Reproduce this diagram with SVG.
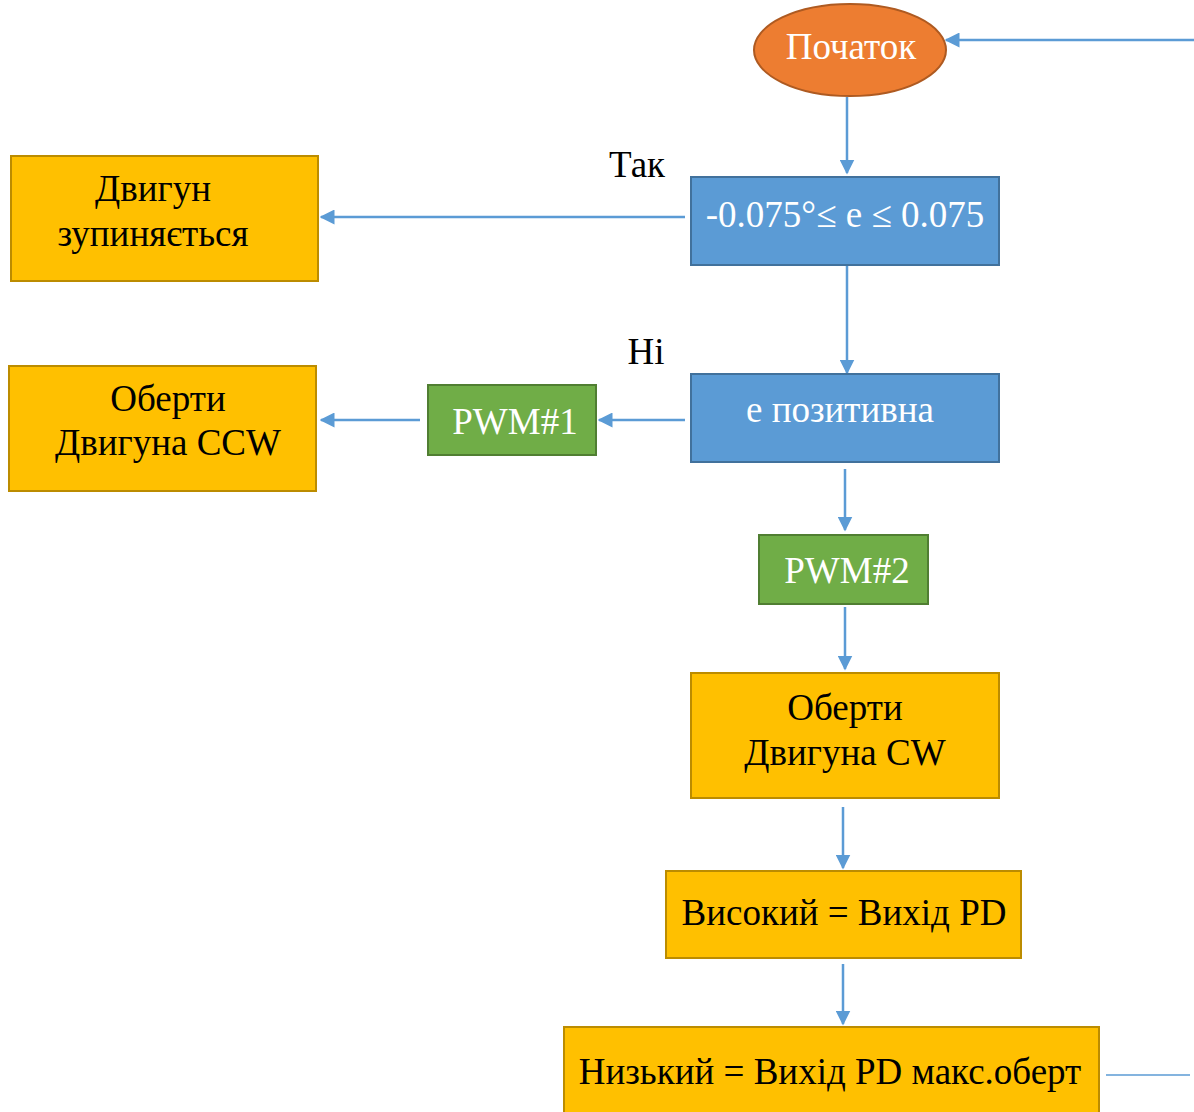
<svg xmlns="http://www.w3.org/2000/svg" width="1194" height="1112" viewBox="0 0 1194 1112">
<defs>
<marker id="ah" viewBox="0 0 10 10" refX="9" refY="5" markerWidth="6" markerHeight="6" orient="auto" markerUnits="strokeWidth">
<path d="M0,0 L10,5 L0,10 z" fill="#5B9BD5"/>
</marker>
<style>
.t{font-size:37px;text-anchor:middle}
.w{fill:#FFFFFF}
.k{fill:#000000}
.y{fill:#FFC000;stroke:#BC8C00;stroke-width:2}
.b{fill:#5B9BD5;stroke:#41719C;stroke-width:2}
.g{fill:#70AD47;stroke:#507E32;stroke-width:2}
.c{stroke:#5B9BD5;stroke-width:2.5;fill:none}
</style>
</defs>
<rect width="1194" height="1112" fill="#FFFFFF"/>
<g font-family="Liberation Serif, Times New Roman, serif">
<g id="connectors">
<line class="c" x1="1194" y1="40" x2="946" y2="40" marker-end="url(#ah)"/>
<line class="c" x1="847" y1="97" x2="847" y2="173" marker-end="url(#ah)"/>
<line class="c" x1="685" y1="217" x2="321" y2="217" marker-end="url(#ah)"/>
<line class="c" x1="847" y1="266" x2="847" y2="373" marker-end="url(#ah)"/>
<line class="c" x1="685" y1="420" x2="599" y2="420" marker-end="url(#ah)"/>
<line class="c" x1="420" y1="420" x2="321" y2="420" marker-end="url(#ah)"/>
<line class="c" x1="845" y1="469" x2="845" y2="530" marker-end="url(#ah)"/>
<line class="c" x1="845" y1="607" x2="845" y2="669" marker-end="url(#ah)"/>
<line class="c" x1="843" y1="807" x2="843" y2="868" marker-end="url(#ah)"/>
<line class="c" x1="843" y1="964" x2="843" y2="1024" marker-end="url(#ah)"/>
<line x1="1106" y1="1075" x2="1190" y2="1075" stroke="#5B9BD5" stroke-width="1.5"/>
<text class="t k" x="637" y="177">Так</text>
<text class="t k" x="646" y="364">Ні</text>
</g>
<g id="start">
<ellipse cx="850" cy="50" rx="96" ry="46" fill="#ED7D31" stroke="#AE5A21" stroke-width="2"/>
<text class="t w" x="851" y="59">Початок</text>
</g>
<g id="cond1">
<rect class="b" x="691" y="177" width="308" height="88"/>
<text class="t w" x="845" y="227">-0.075°≤ e ≤ 0.075</text>
</g>
<g id="stop">
<rect class="y" x="11" y="156" width="307" height="125"/>
<text class="t k" x="153" y="201">Двигун</text>
<text class="t k" x="153" y="246">зупиняється</text>
</g>
<g id="cond2">
<rect class="b" x="691" y="374" width="308" height="88"/>
<text class="t w" x="840" y="422">е позитивна</text>
</g>
<g id="pwm1">
<rect class="g" x="428" y="385" width="168" height="70"/>
<text class="t w" x="515" y="434">PWM#1</text>
</g>
<g id="ccw">
<rect class="y" x="9" y="366" width="307" height="125"/>
<text class="t k" x="168" y="411">Оберти</text>
<text class="t k" x="168" y="455">Двигуна CCW</text>
</g>
<g id="pwm2">
<rect class="g" x="759" y="535" width="169" height="69"/>
<text class="t w" x="847" y="583">PWM#2</text>
</g>
<g id="cw">
<rect class="y" x="691" y="673" width="308" height="125"/>
<text class="t k" x="845" y="720">Оберти</text>
<text class="t k" x="845" y="765">Двигуна CW</text>
</g>
<g id="high">
<rect class="y" x="666" y="871" width="355" height="87"/>
<text class="t k" x="844" y="925">Високий = Вихід PD</text>
</g>
<g id="low">
<rect class="y" x="564" y="1027" width="535" height="95"/>
<text class="t k" x="830" y="1084">Низький = Вихід PD макс.оберт</text>
</g>
</g>
</svg>
